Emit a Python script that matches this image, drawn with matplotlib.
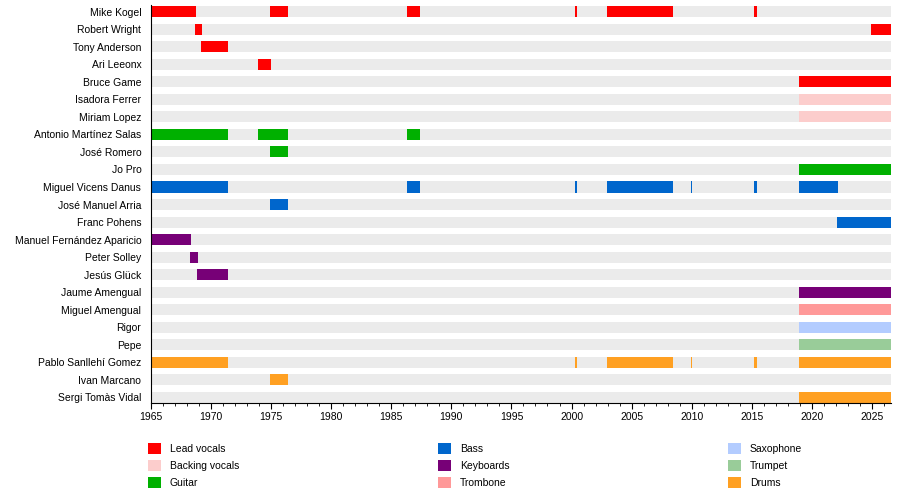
import matplotlib
matplotlib.use("Agg")
import matplotlib.pyplot as plt
from matplotlib.patches import Patch
from matplotlib.ticker import MultipleLocator

plt.rcParams['font.family'] = ['Liberation Sans', 'DejaVu Sans']

END = 2026.59

# members, top to bottom
members = [
    "Mike Kogel", "Robert Wright", "Tony Anderson", "Ari Leeonx", "Bruce Game",
    "Isadora Ferrer", "Miriam Lopez", "Antonio Martínez Salas", "José Romero",
    "Jo Pro", "Miguel Vicens Danus", "José Manuel Arria", "Franc Pohens",
    "Manuel Fernández Aparicio", "Peter Solley", "Jesús Glück",
    "Jaume Amengual", "Miguel Amengual", "Rigor", "Pepe",
    "Pablo Sanllehí Gomez", "Ivan Marcano", "Sergi Tomàs Vidal",
]

roles = [
    "Lead vocals", "Lead vocals", "Lead vocals", "Lead vocals", "Lead vocals",
    "Backing vocals", "Backing vocals", "Guitar", "Guitar", "Guitar",
    "Bass", "Bass", "Bass", "Keyboards", "Keyboards", "Keyboards",
    "Keyboards", "Trombone", "Saxophone", "Trumpet",
    "Drums", "Drums", "Drums",
]

# active periods (start, end) per member
periods = [
    [(1965, 1968.77), (1974.93, 1976.43), (1986.32, 1987.4), (2000.33, 2000.42),
     (2002.96, 2008.45), (2015.19, 2015.44)],
    [(1968.69, 1969.27), (2024.9, END)],
    [(1969.18, 1971.43)],
    [(1973.93, 1975.01)],
    [(2018.95, END)],
    [(2018.95, END)],
    [(2018.95, END)],
    [(1965, 1971.43), (1973.93, 1976.43), (1986.32, 1987.4)],
    [(1974.93, 1976.43)],
    [(2018.95, END)],
    [(1965, 1971.43), (1986.32, 1987.4), (2000.33, 2000.42), (2002.96, 2008.45),
     (2009.92, 2010.01), (2015.19, 2015.44), (2018.95, 2022.17)],
    [(1974.93, 1976.43)],
    [(2022.09, END)],
    [(1965, 1968.35)],
    [(1968.27, 1968.93)],
    [(1968.85, 1971.43)],
    [(2018.95, END)],
    [(2018.95, END)],
    [(2018.95, END)],
    [(2018.95, END)],
    [(1965, 1971.43), (2000.33, 2000.42), (2002.96, 2008.45), (2009.92, 2010.01),
     (2015.19, 2015.44), (2018.95, END)],
    [(1974.93, 1976.43)],
    [(2018.95, END)],
]

legend_roles = ["Lead vocals", "Backing vocals", "Guitar", "Bass", "Keyboards",
                "Trombone", "Saxophone", "Trumpet", "Drums"]
role_colors = {
    "Lead vocals": "#FF0000",
    "Backing vocals": "#FCCDCC",
    "Guitar": "#00B000",
    "Bass": "#0066CC",
    "Keyboards": "#770077",
    "Trombone": "#FF9999",
    "Saxophone": "#B3CCFF",
    "Trumpet": "#99CC99",
    "Drums": "#FFA022",
}

fig = plt.figure(figsize=(9, 5.01), dpi=100)
ax = fig.add_axes([151 / 900, 98 / 501, 740 / 900, 398 / 501])

bh = 0.63
for i, name in enumerate(members):
    ax.broken_barh([(1965, END - 1965)], (i - bh / 2, bh), facecolors="#EBEBEB")
    spans = [(s, e - s) for s, e in periods[i]]
    ax.broken_barh(spans, (i - bh / 2, bh), facecolors=role_colors[roles[i]])

ax.set_xlim(1965, END)
ax.set_ylim(len(members) - 1 + bh / 2, -bh / 2 - 0.06)
ax.set_yticks(range(len(members)))
ax.set_yticklabels(members, fontsize=7.5)
ax.tick_params(axis="y", length=0, pad=7)
ax.xaxis.set_major_locator(MultipleLocator(5))
ax.xaxis.set_minor_locator(MultipleLocator(1))
ax.tick_params(axis="x", which="major", length=4.5, labelsize=7.5, pad=2)
ax.tick_params(axis="x", which="minor", length=2.5)
for side in ["top", "right"]:
    ax.spines[side].set_visible(False)

# legend in three columns
cols = [(148, legend_roles[0:3]), (438, legend_roles[3:6]), (728, legend_roles[6:9])]
for x, names in cols:
    handles = [Patch(facecolor=role_colors[r], edgecolor="none") for r in names]
    fig.legend(handles, names, loc="upper left",
               bbox_to_anchor=(x / 900, 1 - 443 / 501),
               frameon=False, fontsize=7.5, borderpad=0, borderaxespad=0,
               handlelength=1.25, handleheight=1.25, handletextpad=0.85,
               labelspacing=0.57)

fig.savefig("out.png", dpi=100)
